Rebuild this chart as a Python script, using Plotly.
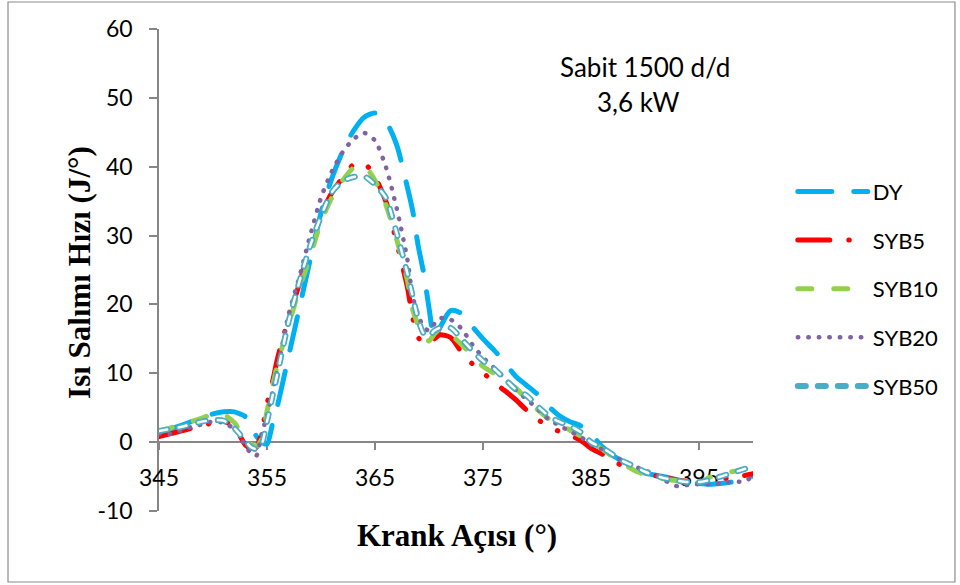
import plotly.graph_objects as go

# Crank angle grid (deg)
crank = [345, 346, 347, 348, 349, 350, 351, 352, 352.5, 353, 353.5, 354, 354.5, 355, 355.5, 356,
         357, 358, 359, 360, 361, 362, 363, 364, 365, 366, 367, 368, 368.5, 369, 369.5, 370, 370.5, 371,
         372, 373, 374, 375, 376, 377, 378, 379, 380, 381, 382, 383, 384, 385, 386, 387, 388, 389, 390,
         391, 392, 393, 394, 395, 396, 397, 398, 399, 400]

dy = [1.5, 1.9, 2.4, 3.0, 3.6, 4.1, 4.4, 4.4, 4.1, 3.7, 2.4, 0.9, 0.0, -0.3, 2.6, 5.5,
      12.5, 19.5, 26.5, 33.3, 38.3, 42.2, 45.2, 47.2, 47.8, 46.6, 43.2, 37.0, 33.5, 28.5, 24.6, 19.5, 15.0, 16.6,
      19.1, 18.7, 16.8, 15.0, 13.4, 11.6, 9.6, 8.3, 7.0, 5.3, 3.9, 3.0, 2.4, 1.2, -0.6, -1.9, -2.9, -4.0, -4.5,
      -4.8, -5.1, -5.5, -5.8, -6.0, -6.1, -6.0, -5.8, -5.4, -4.9]

syb5 = [0.8, 1.2, 1.6, 2.0, 2.4, 2.8, 3.0, 2.2, 0.9, -0.4, -0.9, -0.8, 1.5, 5.5, 8.7, 12.3,
        18.0, 23.0, 28.5, 33.0, 36.2, 38.4, 40.3, 40.5, 38.5, 35.0, 29.0, 22.5, 18.0, 15.2, 14.4, 14.3, 15.0, 15.6,
        15.2, 13.1, 11.4, 10.1, 8.7, 7.5, 6.2, 4.7, 3.4, 2.3, 1.6, 1.0, 0.3, -0.9, -1.7, -2.7, -3.5, -4.1, -4.5,
        -4.9, -5.2, -5.5, -5.7, -5.8, -5.6, -5.4, -5.1, -4.9, -4.6]

syb10 = [1.5, 2.0, 2.6, 3.0, 3.5, 4.1, 4.0, 2.8, 1.6, 0.5, -0.3, -0.6, 0.4, 4.5, 8.0, 11.5,
         17.0, 22.3, 27.0, 32.0, 35.5, 38.0, 39.8, 40.1, 38.0, 34.5, 29.5, 23.5, 19.2, 17.0, 15.3, 14.7, 15.7, 16.4,
         15.6, 14.2, 12.6, 11.0, 10.0, 9.0, 7.9, 6.3, 4.8, 3.5, 2.6, 1.8, 0.9, 0.0, -1.0, -2.1, -3.1, -4.1, -4.7,
         -5.1, -5.4, -5.6, -5.8, -5.9, -5.1, -4.5, -4.3, -4.0, -3.5]

syb20 = [1.2, 1.2, 1.7, 2.2, 2.6, 3.0, 2.8, 1.9, 1.1, -0.7, -1.5, -2.0, 1.2, 3.8, 7.2, 10.8,
         18.5, 24.0, 30.0, 35.5, 39.3, 42.1, 44.0, 44.9, 43.8, 40.0, 34.0, 26.5, 21.1, 18.5, 16.7, 16.2, 17.2, 18.0,
         17.8, 16.5, 14.2, 12.3, 10.8, 9.3, 7.6, 6.3, 4.9, 3.4, 2.5, 1.6, 0.8, -0.3, -1.0, -1.8, -2.8, -3.5, -4.1,
         -4.8, -5.7, -6.4, -6.2, -6.1, -6.1, -6.0, -5.8, -5.7, -5.1]

syb50 = [1.6, 1.9, 2.2, 2.6, 3.0, 3.2, 3.1, 2.0, 1.1, 0.2, -0.7, -1.0, -0.3, 3.0, 6.6, 10.2,
         17.5, 23.3, 28.5, 32.8, 36.3, 37.9, 38.5, 38.6, 37.4, 35.5, 30.4, 24.5, 21.1, 17.8, 15.8, 15.4, 16.2, 16.6,
         16.6, 15.0, 13.3, 11.8, 10.7, 9.2, 7.7, 6.8, 5.3, 3.9, 3.0, 2.4, 1.5, 0.0, -0.8, -1.8, -2.8, -3.5, -4.3,
         -4.9, -5.3, -5.6, -5.8, -5.8, -5.5, -5.0, -4.5, -4.0, -3.5]

x_ticks = [345, 355, 365, 375, 385, 395]
y_ticks = [-10, 0, 10, 20, 30, 40, 50, 60]

AXIS = "#868686"
SANS = "Lato, 'Open Sans', sans-serif"
SERIF = "'Liberation Serif', 'Times New Roman', serif"
TICK_FONT = dict(family=SANS, size=23, color="#000000")

fig = go.Figure()

series = [
    ("DY", dy, "#00B0F0", 5, "34px,22px"),
    ("SYB5", syb5, "#FF0000", 5, "32px,19px,0.5px,19px,0.5px,19px"),
    ("SYB10", syb10, "#92D050", 5, "14px,22px"),
    ("SYB20", syb20, "#8064A2", 4.5, "0.5px,10px"),
    ("SYB50", syb50, "#4BACC6", 6, "8px,12px"),
]
for name, vals, color, w, dash in series:
    fig.add_trace(go.Scatter(
        x=crank, y=vals, name=name, mode="lines", legendgroup=name,
        line=dict(color=color, width=w, dash=dash, shape="spline", smoothing=0.7),
        hoverinfo="skip",
    ))
# white core for outlined SYB50 dashes
fig.add_trace(go.Scatter(
    x=crank, y=syb50, name="SYB50", mode="lines", legendgroup="SYB50", showlegend=False,
    line=dict(color="#FFFFFF", width=2.5, dash="8px,12px", shape="spline", smoothing=0.7),
    hoverinfo="skip",
))

fig.update_layout(
    width=960, height=585,
    margin=dict(l=159, r=207, t=29, b=74),
    paper_bgcolor="white", plot_bgcolor="white",
    showlegend=True,
    legend=dict(
        x=1.067, y=0.706, xanchor="left", yanchor="top",
        font=dict(family=SANS, size=22, color="#000000"),
        itemwidth=70, tracegroupgap=17, bgcolor="rgba(0,0,0,0)",
    ),
    xaxis=dict(
        range=[345, 400], tickvals=x_ticks, ticktext=[str(v) for v in x_ticks],
        showgrid=False, zeroline=False, showline=True, linecolor=AXIS, linewidth=1.5,
        ticks="outside", ticklen=7, tickwidth=1.5, tickcolor=AXIS,
        anchor="free", position=1/7, tickfont=TICK_FONT, ticklabelstandoff=9,
        layer="below traces",
    ),
    yaxis=dict(
        range=[-10, 60], tickvals=y_ticks, ticktext=[str(v) for v in y_ticks],
        showgrid=False, zeroline=False, showline=True, linecolor=AXIS, linewidth=1.5,
        ticks="outside", ticklen=8, tickwidth=1.5, tickcolor=AXIS,
        tickfont=TICK_FONT, ticklabelstandoff=12, layer="below traces",
    ),
    annotations=[
        dict(text="Sabit 1500 d/d", x=0.672, y=0.921, xref="paper", yref="paper",
             xanchor="left", yanchor="middle", showarrow=False,
             font=dict(family=SANS, size=26, color="#000000")),
        dict(text="3,6 kW", x=0.734, y=0.8485, xref="paper", yref="paper",
             xanchor="left", yanchor="middle", showarrow=False,
             font=dict(family=SANS, size=26, color="#000000")),
        dict(text="<b>Krank Açısı (°)</b>", x=0.5017, y=-0.05, xref="paper", yref="paper",
             xanchor="center", yanchor="middle", showarrow=False,
             font=dict(family=SERIF, size=31, color="#000000")),
        dict(text="<b>Isı Salımı Hızı (J/°)</b>", x=-0.133, y=0.496, xref="paper", yref="paper",
             xanchor="center", yanchor="middle", showarrow=False, textangle=-90,
             font=dict(family=SERIF, size=31, color="#000000")),
    ],
    shapes=[
        dict(type="rect", xref="paper", yref="paper", x0=-0.2542, x1=1.340, y0=-0.1473, y1=1.056,
             line=dict(color="#8C8C8C", width=1.2), fillcolor="rgba(0,0,0,0)", layer="below"),
    ],
)

fig.write_html(
    "out.html",
    post_script="document.querySelectorAll('path.js-line').forEach(function(p){p.style.strokeLinecap='round';p.style.strokeLinejoin='round';});",
)
